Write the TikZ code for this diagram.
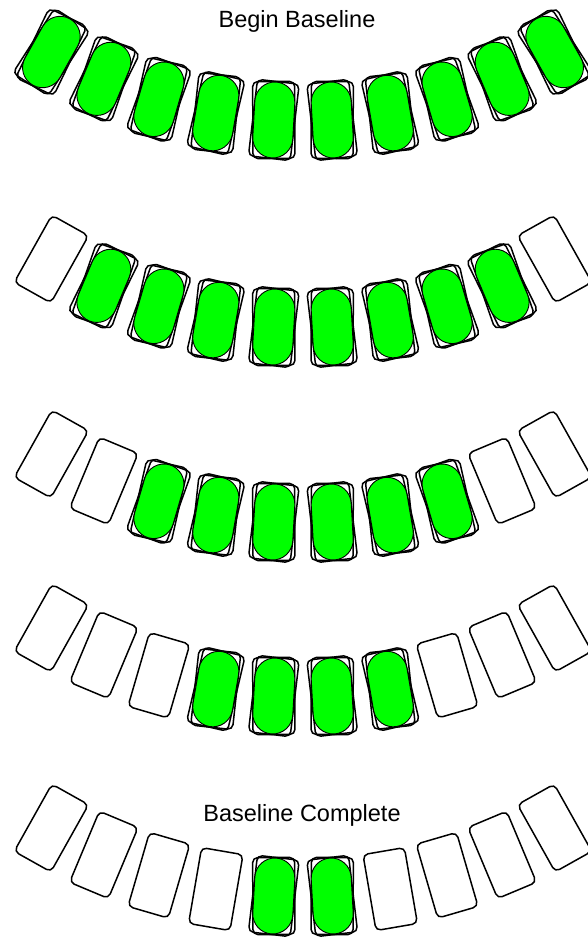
\documentclass[tikz,border=0pt]{standalone}
\usepackage{fontspec}
\setmainfont{Liberation Sans}
\begin{document}
\begin{tikzpicture}[x=1pt,y=1pt,
  slotbox/.style={rectangle, draw=black, line width=1.5pt, rounded corners=5pt,
    minimum width=42pt, minimum height=77pt, inner sep=0pt},
  pod/.style={rectangle, draw=black, line width=0.9pt, fill=green, rounded corners=20pt,
    minimum width=40pt, minimum height=76pt, inner sep=0pt},
  lbl/.style={font=\fontsize{23.5}{28}\selectfont, inner sep=0pt, anchor=base}]
\useasboundingbox (0,0) rectangle (588,941);
\clip (0,0) rectangle (588,941);
\foreach \r/\yv/\lo/\hi in {1/120/1/10, 2/327/2/9, 3/522/3/8, 4/696/4/7, 5/896/5/6} {
  \foreach \k in {1,...,10} {
    \pgfmathsetmacro\ang{(\k-5.5)*6.5}
    \pgfmathsetmacro\px{303+515*sin(\ang)}
    \pgfmathsetmacro\py{941-(\yv-540*(cos(3.25)-cos(\ang)))}
    \pgfmathtruncatemacro\filled{and(\k>=\lo,\k<=\hi)}
    \ifnum\filled=1
      \pgfmathsetmacro\angA{\ang+3.5}
      \pgfmathsetmacro\angB{\ang-3.5}
      \node[slotbox, rotate=\angA] (s\r-\k) at (\px,\py) {};
      \node[slotbox, rotate=\angB] (t\r-\k) at (\px,\py) {};
      \node[pod, rotate=\ang] (p\r-\k) at (\px,\py) {};
    \else
      \node[slotbox, rotate=\ang] (s\r-\k) at (\px,\py) {};
    \fi
  }
}
\node[lbl] (title) at (297, 941-28) {Begin Baseline};
\node[lbl] (done) at (302, 941-822) {Baseline Complete};
\end{tikzpicture}
\end{document}
